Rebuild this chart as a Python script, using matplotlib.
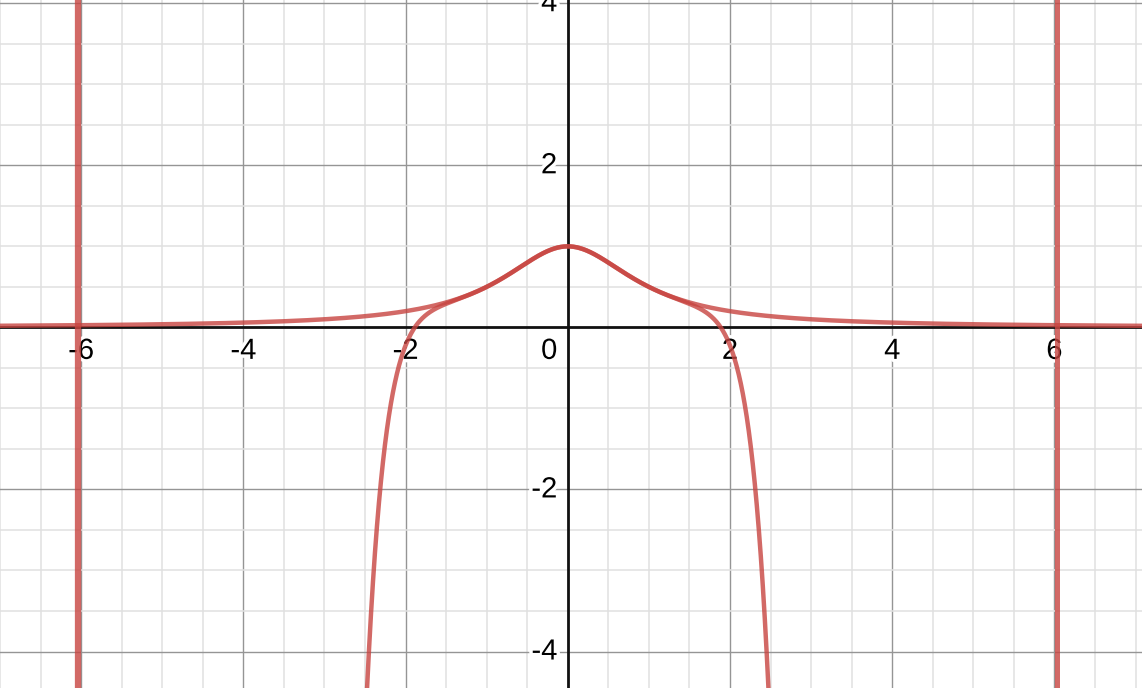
import numpy as np
import matplotlib
matplotlib.use("Agg")
import matplotlib.pyplot as plt
import matplotlib.patheffects as pe

# --- data ---
x_ticks = [-6, -4, -2, 2, 4, 6]
y_ticks = [-4, -2, 2, 4]
x_limits = [-7.0, 7.08]
y_limits = [-4.45, 4.04]

# approximation curve: 1/(1+x^2) - c*|x|^p
approx_c = 1.8e-4
approx_p = 11.2

# the two vertical lines
vlines_x = [-6.04, 6.03]
vlines_width = [4.5, 3.6]

red = "#c74440"

fig = plt.figure(figsize=(11.42, 6.88), dpi=100)
ax = fig.add_axes([0, 0, 1, 1])
ax.set_xlim(x_limits)
ax.set_ylim(y_limits)

# grid: minor every 0.5, major every 2
for v in np.arange(-7.0, 7.6, 0.5):
    if abs(v) < 1e-9:
        continue
    major = abs(v % 2) < 1e-9
    ax.axvline(v, color="#959595" if major else "#e0e0e0", lw=1.0 if major else 1.1, zorder=0)
for v in np.arange(-4.5, 4.6, 0.5):
    if abs(v) < 1e-9:
        continue
    major = abs(v % 2) < 1e-9
    ax.axhline(v, color="#959595" if major else "#e0e0e0", lw=1.0 if major else 1.1, zorder=0)

# axes
ax.axhline(0, color="#111111", lw=2.0, zorder=1)
ax.axvline(0, color="#111111", lw=2.0, zorder=1)

# curves
x = np.linspace(x_limits[0], x_limits[1], 4000)
f = 1 / (1 + x**2)
g = f - approx_c * np.abs(x)**approx_p
ax.plot(x, f, color=red, lw=3.2, alpha=0.8, solid_capstyle="round", zorder=3)
ax.plot(x, g, color=red, lw=3.2, alpha=0.8, solid_capstyle="round", zorder=3)
for xv, w in zip(vlines_x, vlines_width):
    ax.axvline(xv, color=red, lw=w, alpha=0.8, zorder=3)

# tick labels
halo = [pe.withStroke(linewidth=5, foreground="white")]
font = dict(fontsize=21, family=["Liberation Sans", "DejaVu Sans"], color="black", zorder=2)
for t in x_ticks:
    ax.text(t, -0.29, str(t), ha="center", va="center", path_effects=halo, **font)
for t in y_ticks:
    ax.text(-0.13, t, str(t), ha="right", va="center", path_effects=halo, **font)
ax.text(-0.13, -0.29, "0", ha="right", va="center", path_effects=halo, **font)

ax.axis("off")
fig.savefig("out.png", dpi=100)
